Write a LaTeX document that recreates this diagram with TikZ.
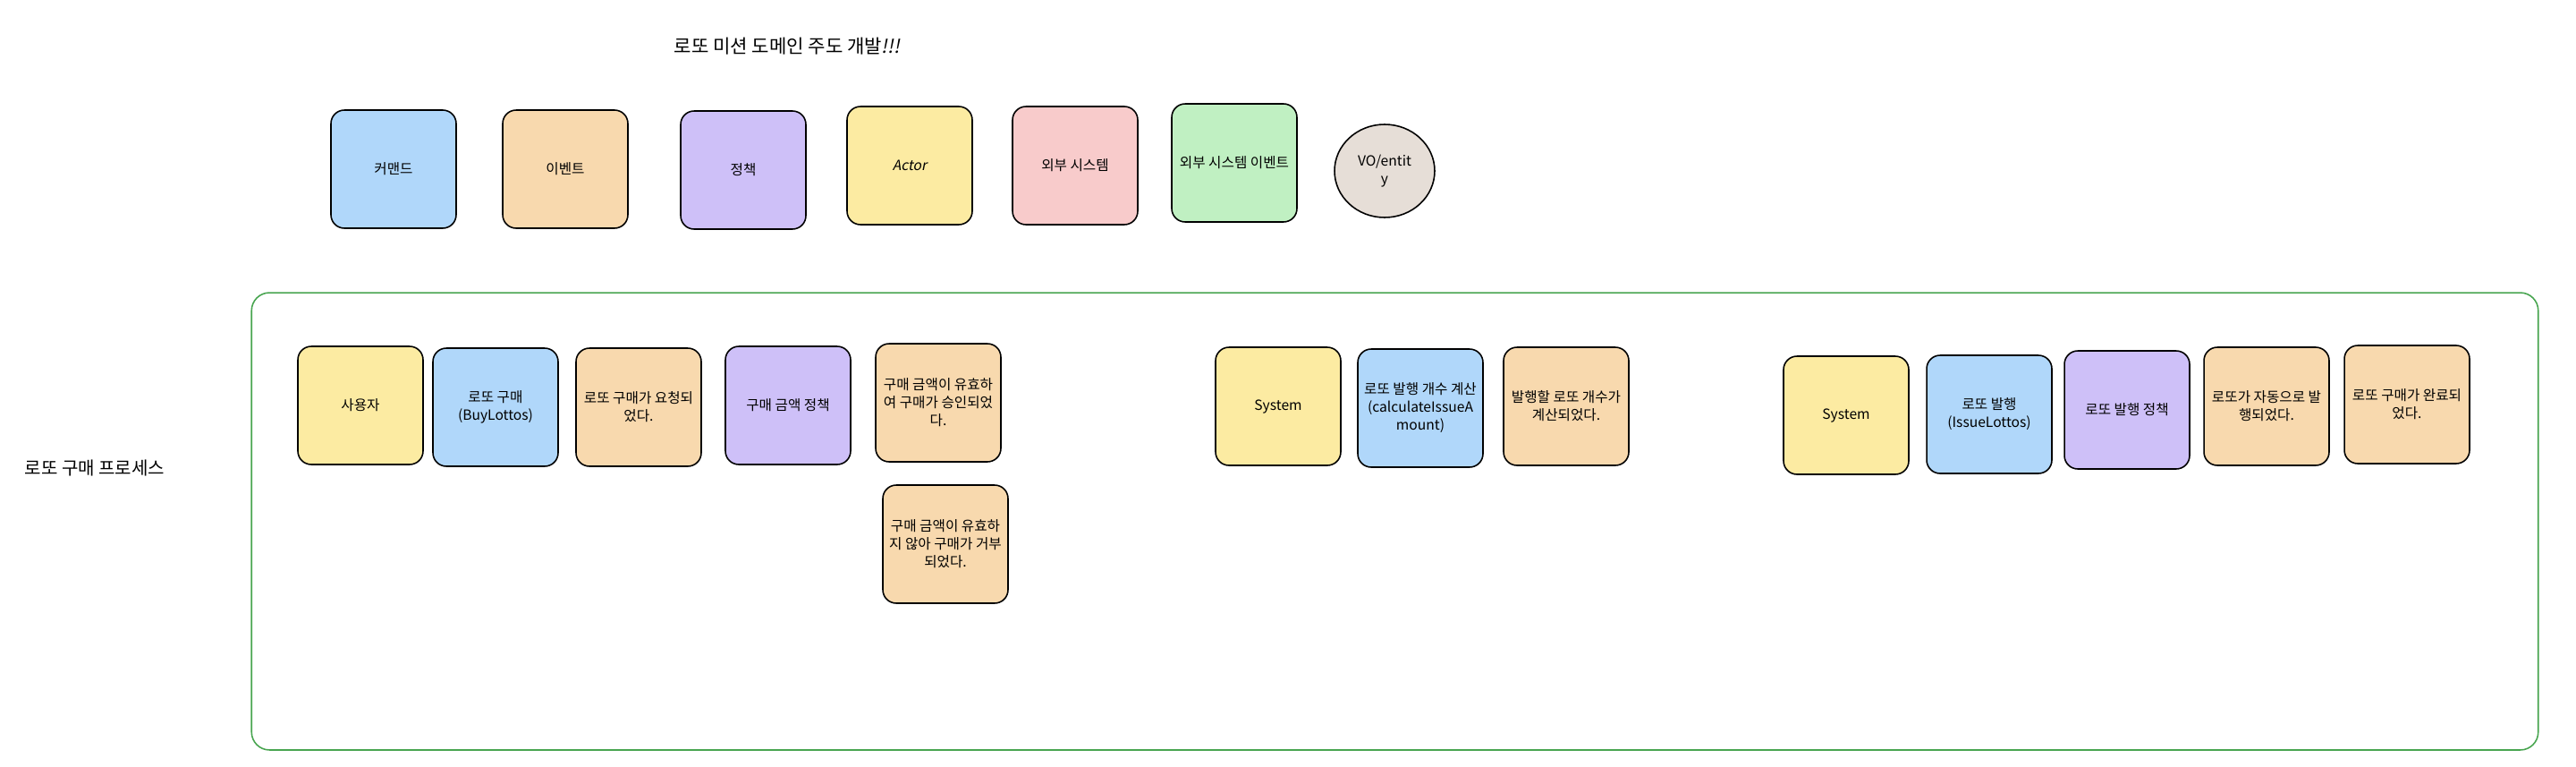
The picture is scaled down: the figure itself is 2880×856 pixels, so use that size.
\documentclass[tikz,border=0pt]{standalone}
\usepackage{fontspec}
\setmainfont{Noto Sans CJK KR}
\newfontfamily\slantfont{Noto Sans CJK KR}[FakeSlant=0.2]
\usepackage{tikz}
\usetikzlibrary{shapes.geometric, positioning}
\definecolor{sblue}{RGB}{176, 215, 250}
\definecolor{sorange}{RGB}{248, 217, 174}
\definecolor{spurple}{RGB}{206, 192, 248}
\definecolor{syellow}{RGB}{252, 235, 162}
\definecolor{spink}{RGB}{248, 203, 203}
\definecolor{sgreen}{RGB}{192, 240, 194}
\definecolor{stan}{RGB}{230, 222, 215}
\definecolor{slane}{RGB}{72, 165, 80}

\begin{document}
\begin{tikzpicture}[
    x=0.02cm, y=-0.02cm,
    note/.style={draw, line width=0.9pt, rounded corners=0.3cm, minimum width=2.8cm, minimum height=2.64cm, inner sep=1pt, align=center, font=\fontsize{8.9}{11.4}\selectfont},
    lane/.style={draw=slane, line width=0.9pt, rounded corners=0.4cm, minimum width=51.14cm, minimum height=10.22cm},
]
    \useasboundingbox (0,0) rectangle (2880,856);

    % Title
    \node[font=\fontsize{12}{14}\selectfont] (title) at (880,52) {로또 미션 도메인 주도 개발{\slantfont!!!}};

    % Legend
    \node[note, fill=sblue] (cmd) at (440,189) {커맨드};
    \node[note, fill=sorange] (evt) at (632,189) {이벤트};
    \node[note, fill=spurple] (pol) at (831,190) {정책};
    \node[note, fill=syellow] (act) at (1017,185) {\slantfont Actor};
    \node[note, fill=spink] (ext) at (1202,185) {외부 시스템};
    \node[note, fill=sgreen] (extevt) at (1380,182) {외부 시스템 이벤트};
    \node[ellipse, draw, line width=0.9pt, fill=stan, minimum width=2.24cm, minimum height=2.08cm, align=center, font=\fontsize{8.9}{11.4}\selectfont] (vo) at (1548,191) {VO/entit\\y};

    % Purchase process
    \node[lane] (process) at (1559.5,582.5) {};
    \node[font=\fontsize{11.4}{13}\selectfont] (proclabel) at (106,523) {로또 구매 프로세스};

    \node[note, fill=syellow] (user) at (403,453) {사용자};
    \node[note, fill=sblue] (buy) at (554,455) {로또 구매\\(BuyLottos)};
    \node[note, fill=sorange] (requested) at (714,455) {로또 구매가 요청되\\었다.};
    \node[note, fill=spurple] (amountpol) at (881,453) {구매 금액 정책};
    \node[note, fill=sorange] (approved) at (1049,450) {구매 금액이 유효하\\여 구매가 승인되었\\다.};
    \node[note, fill=sorange] (rejected) at (1057,608) {구매 금액이 유효하\\지 않아 구매가 거부\\되었다.};

    \node[note, fill=syellow] (sys1) at (1429,454) {System};
    \node[note, fill=sblue] (calc) at (1588,456) {로또 발행 개수 계산\\(calculateIssueA\\mount)};
    \node[note, fill=sorange] (calculated) at (1751,454) {발행할 로또 개수가\\계산되었다.};

    \node[note, fill=syellow] (sys2) at (2064,464) {System};
    \node[note, fill=sblue] (issue) at (2224,463) {로또 발행\\(IssueLottos)};
    \node[note, fill=spurple] (issuepol) at (2378,458) {로또 발행 정책};
    \node[note, fill=sorange] (issued) at (2534,454) {로또가 자동으로 발\\행되었다.};
    \node[note, fill=sorange] (done) at (2691,452) {로또 구매가 완료되\\었다.};
\end{tikzpicture}
\end{document}
